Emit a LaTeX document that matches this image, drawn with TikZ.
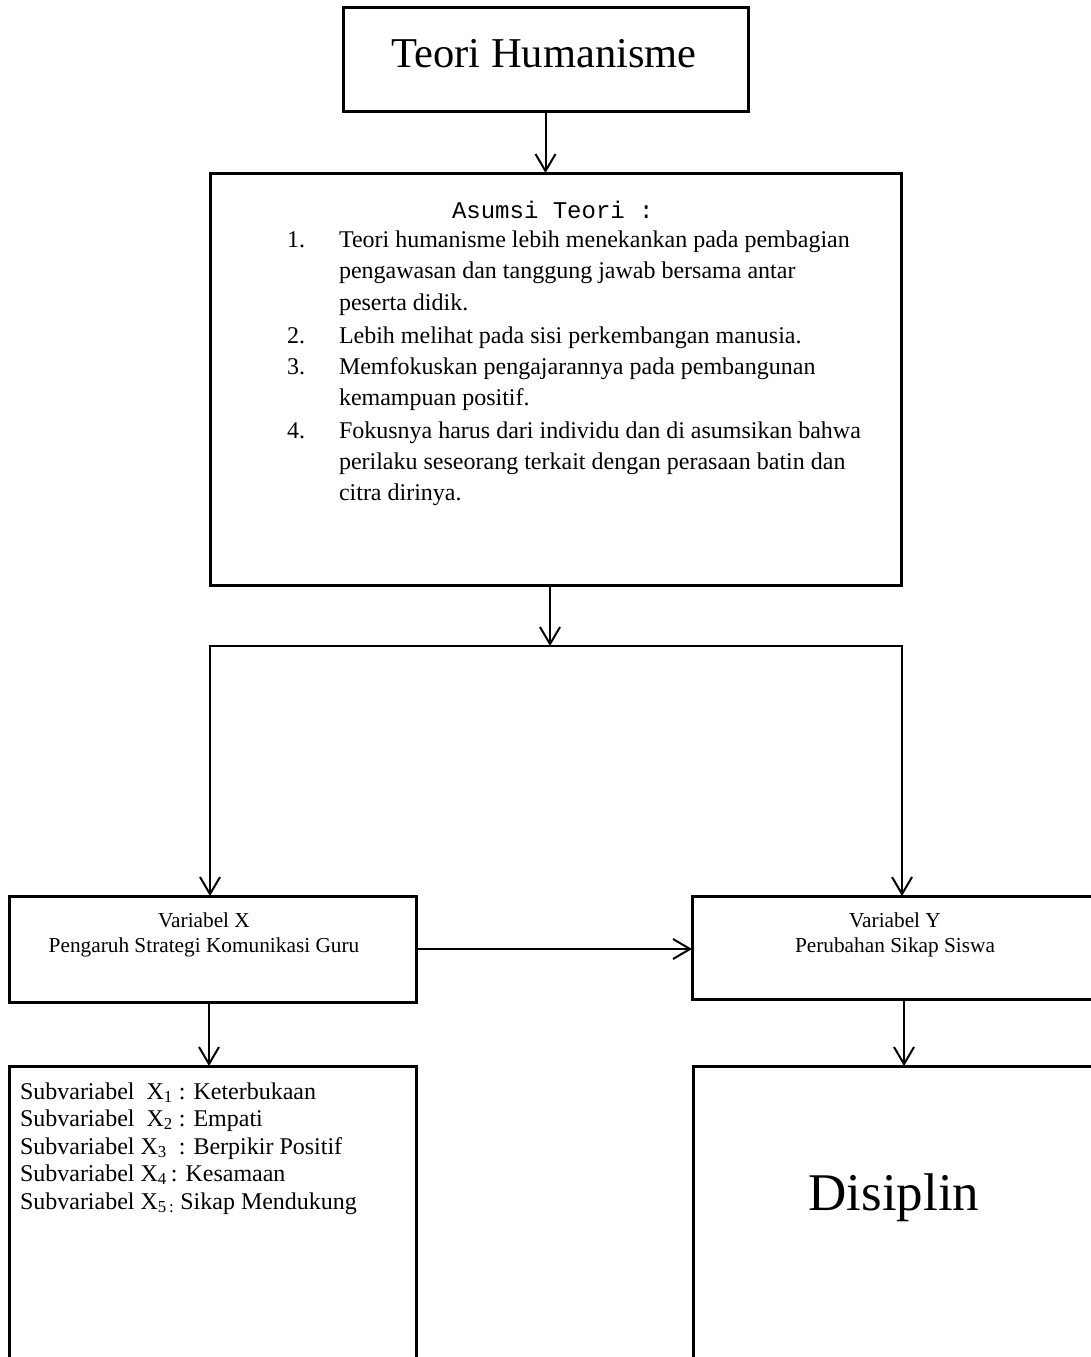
\documentclass[tikz,border=0pt]{standalone}
\usepackage{fontspec}
\setmainfont{Liberation Serif}
\setmonofont{Liberation Mono}
\usetikzlibrary{arrows.meta}
\begin{document}
\begin{tikzpicture}[x=1pt,y=-1pt,
  box/.style={draw,line width=3pt,rectangle,inner sep=0pt,outer sep=0pt,anchor=north west},
  conn/.style={line width=2pt,-{Straight Barb[length=17pt,width=20pt,line width=2pt]}},
  plain/.style={line width=2pt,line cap=rect},
  txt/.style={inner sep=0pt,outer sep=0pt},
  big/.style={font=\fontsize{42.5}{50}\selectfont},
  body/.style={font=\fontsize{24}{31}\selectfont},
  small/.style={font=\fontsize{21.3}{26}\selectfont}]
\clip (0,0) rectangle (1091,1357);
\fill[white] (0,0) rectangle (1091,1357);
% boxes
\node[box,minimum width=405pt,minimum height=104pt] (top) at (343,7) {};
\node[box,minimum width=691pt,minimum height=412pt] (asum) at (210,173) {};
\node[box,minimum width=407pt,minimum height=106pt] (xbox) at (9,896) {};
\node[box,minimum width=450pt,minimum height=103pt] (ybox) at (692,896) {};
\node[box,minimum width=407pt,minimum height=400pt] (sub) at (9,1066) {};
\node[box,minimum width=450pt,minimum height=400pt] (dis) at (693,1066) {};
% coordinates
\coordinate (j) at (550,646);
\coordinate (jl) at (210,646);
\coordinate (jr) at (902,646);
\coordinate (xa) at (209,0);
\coordinate (ya) at (904,0);
% connectors
\draw[conn] (top.south) -- (top.south |- asum.north);
\draw[conn] (j |- asum.south) -- (j);
\draw[plain] (jl) -- (jr);
\draw[conn] (jl) -- (jl |- xbox.north);
\draw[conn] (jr) -- (jr |- ybox.north);
\draw[conn] (xbox.east) -- (xbox.east -| ybox.west);
\draw[conn] (xa |- xbox.south) -- (xa |- sub.north);
\draw[conn] (ya |- ybox.south) -- (ya |- dis.north);
% texts
\node[txt,big,anchor=base] (ttl) at (544,67) {Teori Humanisme};
\node[txt,anchor=base west,font=\ttfamily\fontsize{24}{30}\selectfont] (asm) at (452,218) {Asumsi Teori :};
\node[txt,body,anchor=base west] (n1) at (287,247) {1.};
\node[txt,body,anchor=base west] (n2) at (287,343) {2.};
\node[txt,body,anchor=base west] (n3) at (287,374) {3.};
\node[txt,body,anchor=base west] (n4) at (287,438) {4.};
\node[txt,body,anchor=base west] (a1) at (339,247) {Teori humanisme lebih menekankan pada pembagian};
\node[txt,body,anchor=base west] (a2) at (339,278) {pengawasan dan tanggung jawab bersama antar};
\node[txt,body,anchor=base west] (a3) at (339,310) {peserta didik.};
\node[txt,body,anchor=base west] (a4) at (339,343) {Lebih melihat pada sisi perkembangan manusia.};
\node[txt,body,anchor=base west] (a5) at (339,374) {Memfokuskan pengajarannya pada pembangunan};
\node[txt,body,anchor=base west] (a6) at (339,405) {kemampuan positif.};
\node[txt,body,anchor=base west] (a7) at (339,438) {Fokusnya harus dari individu dan di asumsikan bahwa};
\node[txt,body,anchor=base west] (a8) at (339,469) {perilaku seseorang terkait dengan perasaan batin dan};
\node[txt,body,anchor=base west] (a9) at (339,500) {citra dirinya.};
\node[txt,small,anchor=base] (vx1) at (204,927) {Variabel X};
\node[txt,small,anchor=base] (vx2) at (204,952) {Pengaruh Strategi Komunikasi Guru};
\node[txt,small,anchor=base] (vy1) at (895,927) {Variabel Y};
\node[txt,small,anchor=base] (vy2) at (895,952) {Perubahan Sikap Siswa};
\node[txt,body,anchor=base west] (s1) at (20,1099) {Subvariabel\ \ X\textsubscript{1} : Keterbukaan};
\node[txt,body,anchor=base west] (s2) at (20,1126) {Subvariabel\ \ X\textsubscript{2} : Empati};
\node[txt,body,anchor=base west] (s3) at (20,1154) {Subvariabel X\textsubscript{3}\ \ : Berpikir Positif};
\node[txt,body,anchor=base west] (s4) at (20,1181) {Subvariabel X\textsubscript{4}\,: Kesamaan};
\node[txt,body,anchor=base west] (s5) at (20,1209) {Subvariabel X\textsubscript{5\,:} Sikap Mendukung};
\node[txt,anchor=base,font=\fontsize{53}{60}\selectfont] (dtx) at (894,1210) {Disiplin};
\end{tikzpicture}
\end{document}
